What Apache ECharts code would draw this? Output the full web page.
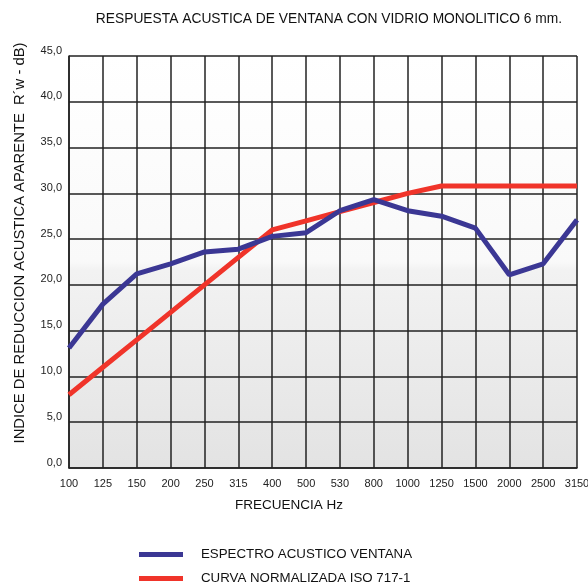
<!DOCTYPE html>
<html><head><meta charset="utf-8">
<script src="https://cdn.jsdelivr.net/npm/echarts@6/dist/echarts.min.js"></script>
<style>html,body{margin:0;padding:0;background:#fff}#c{width:588px;height:588px}</style>
</head><body><div id="c"></div>
<script>
const categories = ['100','125','150','200','250','315','400','500','530','800','1000','1250','1500','2000','2500','3150'];
const espectro = [13.1,17.9,21.2,22.3,23.6,23.9,25.3,25.7,28.1,29.3,28.1,27.5,26.2,21.1,22.3,27.1];
const curvaISO = [8,11,14,17,20,23,26,27,28,29,30,30.8,30.8,30.8,30.8,30.8];
const yTicks = [0,5,10,15,20,25,30,35,40,45];

const FONT = '"Liberation Sans", Arial, sans-serif';
const legendText = {fontSize: 13.3, color: '#111', padding: [0,0,0,13], fontFamily: FONT};
const chart = echarts.init(document.getElementById('c'));
chart.setOption({
  animation: false,
  backgroundColor: '#fff',
  textStyle: {fontFamily: FONT},
  title: {
    text: 'RESPUESTA ACUSTICA DE VENTANA CON VIDRIO MONOLITICO 6 mm.',
    left: 324, top: 7, textAlign: 'center',
    textStyle: {fontSize: 13.8, fontWeight: 'normal', color: '#111', fontFamily: FONT}
  },
  grid: {
    left: 69, right: 11, top: 56, bottom: 120, show: true, borderWidth: 0,
    outerBoundsMode: 'none', containLabel: false,
    backgroundColor: new echarts.graphic.LinearGradient(0,0,0,1,[
      {offset:0,color:'#ffffff'},{offset:0.5,color:'#f9f9f9'},{offset:0.52,color:'#f2f2f2'},{offset:1,color:'#e3e3e3'}])
  },
  legend: [
    {left: 134, top: 543, itemWidth: 44, itemHeight: 5, icon: 'rect',
     textStyle: legendText, data: ['ESPECTRO ACUSTICO VENTANA']},
    {left: 134, top: 567, itemWidth: 44, itemHeight: 5, icon: 'rect',
     textStyle: legendText, data: ['CURVA NORMALIZADA ISO 717-1']}
  ],
  xAxis: {
    type: 'category', data: categories, boundaryGap: false,
    axisLine: {show: true, lineStyle: {color: '#222', width: 1.5}},
    axisTick: {show: false},
    axisLabel: {fontSize: 11, color: '#222', margin: 10, interval: 0},
    splitLine: {show: true, interval: 0, lineStyle: {color: '#222', width: 1.5}}
  },
  yAxis: {
    type: 'value', min: 0, max: 45, interval: 5,
    axisLine: {show: true, lineStyle: {color: '#222', width: 1.5}},
    axisTick: {show: false},
    axisLabel: {fontSize: 11, color: '#222', margin: 7, verticalAlign: 'bottom',
      formatter: v => yTicks.includes(v) ? v.toFixed(1).replace('.', ',') : ''},
    splitLine: {show: true, lineStyle: {color: '#222', width: 1.5}}
  },
  graphic: [{
    type: 'text', x: 20, y: 243, rotation: Math.PI/2,
    style: {text: 'INDICE DE REDUCCION ACUSTICA APARENTE  R´w - dB)', fill: '#111',
      font: '14.8px ' + FONT, textAlign: 'center', textVerticalAlign: 'middle'}
  }, {
    type: 'text', x: 289, y: 505,
    style: {text: 'FRECUENCIA Hz', fill: '#111',
      font: '13.5px ' + FONT, textAlign: 'center', textVerticalAlign: 'middle'}
  }],
  series: [
    {name: 'ESPECTRO ACUSTICO VENTANA', type: 'line', data: espectro, symbol: 'none',
     lineStyle: {color: '#3b3794', width: 5}, itemStyle: {color: '#3b3794'}, z: 3},
    {name: 'CURVA NORMALIZADA ISO 717-1', type: 'line', data: curvaISO, symbol: 'none',
     lineStyle: {color: '#f0342a', width: 5}, itemStyle: {color: '#f0342a'}, z: 2}
  ]
});
</script></body></html>
